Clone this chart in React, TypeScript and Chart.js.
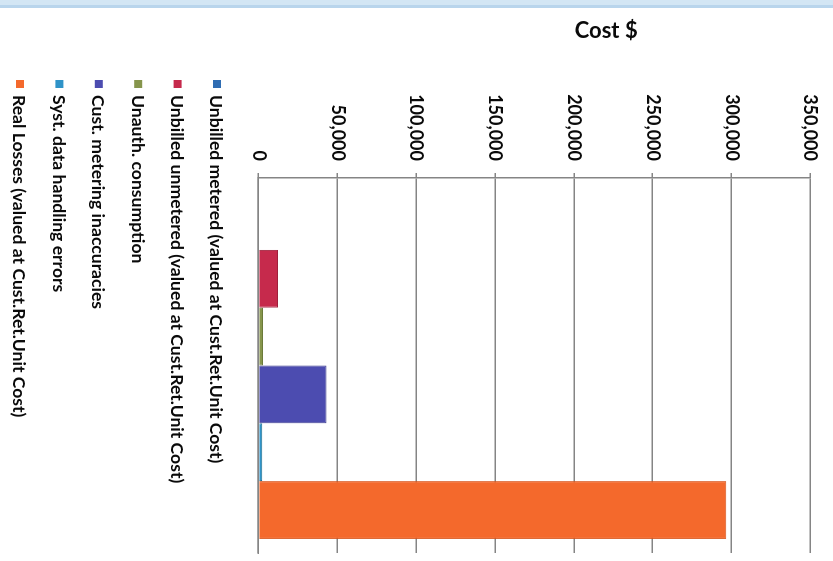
import { useEffect, useRef } from "react";
import { Chart, registerables } from "chart.js";

Chart.register(...registerables);

// Page size; the chart is laid out as an upright column chart and turned
// a quarter-turn clockwise, so its canvas is PAGE_H wide and PAGE_W tall.
const PAGE_W = 833;
const PAGE_H = 561;

const categories = [""];

const seriesNames = [
  "Unbilled metered (valued at Cust.Ret.Unit Cost)",
  "Unbilled unmetered (valued at Cust.Ret.Unit Cost)",
  "Unauth. consumption",
  "Cust. metering inaccuracies",
  "Syst. data handling errors",
  "Real Losses (valued at Cust.Ret.Unit Cost)",
];

const seriesValues = [0, 12300, 2800, 43200, 2300, 296800];

const seriesColors = ["#2f6db3", "#c62a4c", "#86954c", "#4c4cb0", "#2f93c8", "#f4692c"];
const seriesBorders = ["#24568f", "#9e1f3b", "#6b7a3a", "#3a3a8c", "#1f6f8f", "#d9561c"];

const valueTicks = [0, 50000, 100000, 150000, 200000, 250000, 300000, 350000];

const axisTitle = "Cost $";

const FONT = "Lato, 'Open Sans', sans-serif";
const GRID = "#858585";

// White sheet with the pale blue strip along the top edge of the page.
const backdrop = {
  id: "backdrop",
  beforeDraw(chart: Chart) {
    const { ctx, width, height } = chart;
    ctx.save();
    ctx.fillStyle = "#ffffff";
    ctx.fillRect(0, 0, width, height);
    ctx.fillStyle = "#d3e6f4";
    ctx.fillRect(0, 0, 6, height);
    ctx.fillStyle = "#b9d5ec";
    ctx.fillRect(5, 0, 3, height);
    ctx.restore();
  },
};

// One legend entry per row under the plot.
const legendRows = {
  id: "legendRows",
  afterDraw(chart: Chart) {
    const { ctx, chartArea } = chart;
    const firstRow = chartArea.bottom + 41.5;
    const rowStep = 39.4;
    ctx.save();
    ctx.font = `bold 17.6px ${FONT}`;
    ctx.textBaseline = "middle";
    ctx.textAlign = "left";
    chart.data.datasets.forEach((ds, i) => {
      const cy = firstRow + i * rowStep;
      ctx.fillStyle = ds.backgroundColor as string;
      ctx.fillRect(80, cy - 4, 8, 8);
      ctx.fillStyle = "#0a0a0a";
      ctx.fillText(ds.label as string, 95, cy + 1);
    });
    ctx.restore();
  },
};

// Value-axis caption, written up the side of the axis.
const axisCaption = {
  id: "axisCaption",
  afterDraw(chart: Chart) {
    const { ctx, chartArea } = chart;
    ctx.save();
    ctx.translate(31, chartArea.top + 204);
    ctx.rotate(-Math.PI / 2);
    ctx.font = `bold 22px ${FONT}`;
    ctx.fillStyle = "#0a0a0a";
    ctx.textAlign = "center";
    ctx.textBaseline = "middle";
    ctx.fillText(axisTitle, 0, 0);
    ctx.restore();
  },
};

export default function App() {
  const canvasRef = useRef<HTMLCanvasElement>(null);

  useEffect(() => {
    const canvas = canvasRef.current;
    if (!canvas) return;
    const chart = new Chart(canvas, {
      type: "bar",
      data: {
        labels: categories,
        datasets: seriesNames.map((name, i) => ({
          label: name,
          data: [seriesValues[i]],
          backgroundColor: seriesColors[i],
          borderColor: seriesBorders[i],
          borderWidth: 1,
          categoryPercentage: 0.925,
          barPercentage: 1,
        })),
      },
      options: {
        responsive: false,
        animation: false,
        devicePixelRatio: 1,
        layout: { padding: { left: 94, right: 8, top: 20, bottom: 258.5 } },
        plugins: {
          legend: { display: false },
          tooltip: { enabled: false },
        },
        scales: {
          x: {
            type: "category",
            ticks: { display: false },
            grid: { display: false },
            border: { display: true, color: GRID, width: 1.5 },
            afterFit(scale: any) {
              scale.height = 0;
            },
          },
          y: {
            min: valueTicks[0],
            max: valueTicks[valueTicks.length - 1],
            afterBuildTicks(scale: any) {
              scale.ticks = valueTicks.map((v) => ({ value: v }));
            },
            ticks: {
              color: "#0a0a0a",
              padding: 12,
              font: { family: FONT, size: 18, weight: "bold" },
              callback: (v: any) => Number(v).toLocaleString("en-US"),
            },
            grid: { color: GRID, lineWidth: 1.5, tickLength: 5, drawTicks: true },
            border: { display: true, color: GRID, width: 1.5 },
            afterFit(scale: any) {
              scale.width = 84;
            },
          },
        },
      },
      plugins: [backdrop, legendRows, axisCaption],
    });
    return () => chart.destroy();
  }, []);

  return (
    <div
      style={{
        position: "fixed",
        left: 0,
        top: 0,
        width: PAGE_W,
        height: PAGE_H,
        overflow: "hidden",
        background: "#ffffff",
      }}
    >
      <div
        style={{
          position: "absolute",
          left: 0,
          top: 0,
          width: PAGE_H,
          height: PAGE_W,
          transformOrigin: "0 0",
          transform: `translateX(${PAGE_W}px) rotate(90deg)`,
        }}
      >
        <canvas ref={canvasRef} width={PAGE_H} height={PAGE_W} style={{ display: "block" }} />
      </div>
    </div>
  );
}
